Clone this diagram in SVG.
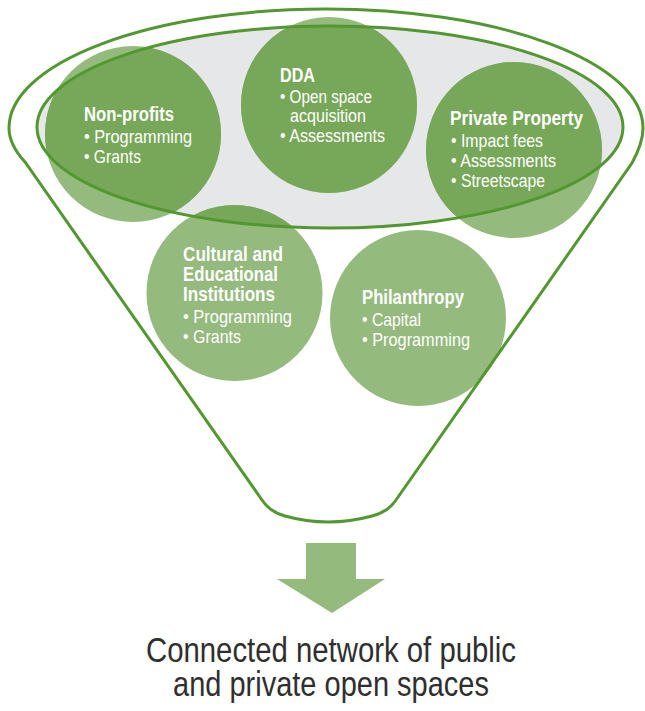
<svg xmlns="http://www.w3.org/2000/svg" width="645" height="711" viewBox="0 0 645 711">
<style>
.light{fill:#94ba7d}
.dark{fill:#77a859}
.line{fill:none;stroke:#52972f;stroke-width:3}
.t{font-family:"Liberation Sans",Arial,sans-serif;font-size:18.5px;fill:#ffffff}
.b{font-weight:bold;font-size:20px}
.cap{font-family:"Liberation Sans",Arial,sans-serif;font-size:35px;fill:#2f2f2f;text-anchor:middle}
</style>
<defs>
<clipPath id="inner"><ellipse cx="330" cy="127" rx="293" ry="101"/></clipPath>
</defs>
<rect width="645" height="711" fill="#ffffff"/>
<g id="funnel">
<ellipse cx="330" cy="127" rx="293" ry="101" fill="#e6e7e8"/>
</g>
<g id="non-profits">
<circle class="light" cx="133" cy="134" r="88"/>
<circle class="dark" cx="133" cy="134" r="88" clip-path="url(#inner)"/>
<text class="t b" x="84" y="121" textLength="90" lengthAdjust="spacingAndGlyphs">Non-profits</text>
<text class="t" x="84" y="143" textLength="108" lengthAdjust="spacingAndGlyphs">• Programming</text>
<text class="t" x="84" y="163" textLength="57" lengthAdjust="spacingAndGlyphs">• Grants</text>
</g>
<g id="dda">
<circle class="light" cx="329" cy="105" r="88"/>
<circle class="dark" cx="329" cy="105" r="88" clip-path="url(#inner)"/>
<text class="t b" x="280" y="82" textLength="35" lengthAdjust="spacingAndGlyphs">DDA</text>
<text class="t" x="280" y="103" textLength="92" lengthAdjust="spacingAndGlyphs">• Open space</text>
<text class="t" x="290" y="122" textLength="76" lengthAdjust="spacingAndGlyphs">acquisition</text>
<text class="t" x="280" y="142" textLength="105" lengthAdjust="spacingAndGlyphs">• Assessments</text>
</g>
<g id="private-property">
<circle class="light" cx="514" cy="150" r="88"/>
<circle class="dark" cx="514" cy="150" r="88" clip-path="url(#inner)"/>
<text class="t b" x="450" y="125" textLength="133" lengthAdjust="spacingAndGlyphs">Private Property</text>
<text class="t" x="451" y="147" textLength="92" lengthAdjust="spacingAndGlyphs">• Impact fees</text>
<text class="t" x="451" y="167" textLength="105" lengthAdjust="spacingAndGlyphs">• Assessments</text>
<text class="t" x="451" y="187" textLength="94" lengthAdjust="spacingAndGlyphs">• Streetscape</text>
</g>
<g id="cultural-educational">
<circle class="light" cx="234.5" cy="293" r="88"/>
<circle class="dark" cx="234.5" cy="293" r="88" clip-path="url(#inner)"/>
<text class="t b" x="183" y="261" textLength="100" lengthAdjust="spacingAndGlyphs">Cultural and</text>
<text class="t b" x="183" y="281" textLength="95" lengthAdjust="spacingAndGlyphs">Educational</text>
<text class="t b" x="183" y="301" textLength="92" lengthAdjust="spacingAndGlyphs">Institutions</text>
<text class="t" x="183" y="323" textLength="109" lengthAdjust="spacingAndGlyphs">• Programming</text>
<text class="t" x="183" y="343" textLength="58" lengthAdjust="spacingAndGlyphs">• Grants</text>
</g>
<g id="philanthropy">
<circle class="light" cx="418" cy="318" r="88"/>
<text class="t b" x="362" y="304" textLength="102" lengthAdjust="spacingAndGlyphs">Philanthropy</text>
<text class="t" x="362" y="326" textLength="59" lengthAdjust="spacingAndGlyphs">• Capital</text>
<text class="t" x="362" y="346" textLength="108" lengthAdjust="spacingAndGlyphs">• Programming</text>
</g>
<g id="funnel-outline">
<ellipse class="line" cx="330" cy="127" rx="293" ry="101"/>
<path class="line" d="M 25,162 C 14,150 9,140 9,128 A 317 119 0 0 1 643 128 C 643,140 638,152 632,163 L 396,500 Q 388,512 372,516 Q 328,528 285,516 Q 270,512 262,500 Z"/>
</g>
<g id="connectors">
<polygon fill="#94ba7d" points="306,543 356,543 356,579 385,579 332,613 277,579 306,579"/>
</g>
<g id="result">
<text class="cap" x="331" y="662" textLength="370" lengthAdjust="spacingAndGlyphs">Connected network of public</text>
<text class="cap" x="331" y="696" textLength="316" lengthAdjust="spacingAndGlyphs">and private open spaces</text>
</g>
</svg>
